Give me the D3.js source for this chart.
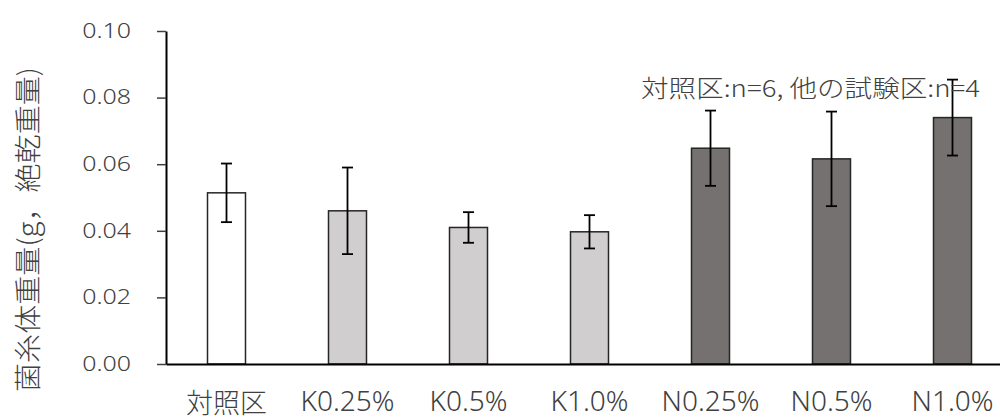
<!DOCTYPE html>
<html>
<head>
<meta charset="utf-8">
<script src="https://cdn.jsdelivr.net/npm/d3@7"></script>
<style>
  body { margin: 0; background: #fff; }
  text { font-family: "Noto Sans", "Noto Sans CJK JP", sans-serif; fill: #404040; font-weight: 300; }
</style>
</head>
<body>
<div id="chart"></div>
<script>
const categories = ['対照区', 'K0.25%', 'K0.5%', 'K1.0%', 'N0.25%', 'N0.5%', 'N1.0%'];
const groups = ['control', 'K', 'K', 'K', 'N', 'N', 'N'];
const means = [0.0514, 0.0460, 0.0410, 0.0397, 0.0648, 0.0616, 0.0740];
const errors = [0.0088, 0.0130, 0.0046, 0.0050, 0.0113, 0.0142, 0.0114];
const yTicks = [0, 0.02, 0.04, 0.06, 0.08, 0.10];
const yLabel = '菌糸体重量(g，絶乾重量)';
const note = '対照区:n=6, 他の試験区:n=4';

const width = 1000;
const height = 420;
const plotLeft = 166, plotRight = 1013, plotTop = 31, plotBottom = 364;

const fills = { control: '#ffffff', K: '#d0cece', N: '#767171' };

let svg = d3.select('#chart')
  .append('svg')
  .attr('width', width)
  .attr('height', height);

let x = d3.scaleBand()
  .domain(categories)
  .range([plotLeft, plotRight])
  .paddingInner(0.686)
  .paddingOuter(0.343);

let y = d3.scaleLinear().domain([0, 0.1]).range([plotBottom, plotTop]);

// Y axis.
let yAxis = d3.axisLeft(y)
  .tickValues(yTicks)
  .tickFormat(d3.format('.2f'))
  .tickSize(9)
  .tickSizeOuter(0);

let yg = svg.append('g')
  .attr('transform', `translate(${plotLeft},0)`)
  .call(yAxis);

const tickStretch = 1.28;
yg.select('.domain').attr('stroke', '#000').attr('stroke-width', 2);
yg.selectAll('.tick line').attr('stroke', '#404040').attr('stroke-width', 1.5);
yg.selectAll('.tick text')
  .attr('x', -35 / tickStretch)
  .attr('transform', `scale(${tickStretch},1)`)
  .style('font-size', '19.5px')
  .attr('fill', '#404040');

// Bars.
svg.append('g')
  .selectAll('rect')
  .data(categories)
  .enter()
  .append('rect')
    .attr('x', d => x(d))
    .attr('y', (d, i) => y(means[i]))
    .attr('width', x.bandwidth())
    .attr('height', (d, i) => plotBottom - y(means[i]))
    .attr('fill', (d, i) => fills[groups[i]])
    .attr('stroke', '#262626')
    .attr('stroke-width', 1.5);

// Error bars.
let eb = svg.append('g')
  .selectAll('g')
  .data(categories)
  .enter()
  .append('g')
    .attr('stroke', '#000')
    .attr('stroke-width', 1.8);

let cx = d => x(d) + x.bandwidth() / 2;
eb.append('line')
  .attr('x1', cx).attr('x2', cx)
  .attr('y1', (d, i) => y(means[i] - errors[i]))
  .attr('y2', (d, i) => y(means[i] + errors[i]));
eb.append('line')
  .attr('x1', d => cx(d) - 5.5).attr('x2', d => cx(d) + 5.5)
  .attr('y1', (d, i) => y(means[i] + errors[i]))
  .attr('y2', (d, i) => y(means[i] + errors[i]));
eb.append('line')
  .attr('x1', d => cx(d) - 5.5).attr('x2', d => cx(d) + 5.5)
  .attr('y1', (d, i) => y(means[i] - errors[i]))
  .attr('y2', (d, i) => y(means[i] - errors[i]));

// X axis.
let xAxis = d3.axisBottom(x).tickSize(0).tickSizeOuter(0);
let xg = svg.append('g')
  .attr('transform', `translate(0,${plotBottom})`)
  .call(xAxis);

xg.select('.domain').attr('stroke', '#000').attr('stroke-width', 2);
xg.selectAll('.tick text')
  .attr('dy', 0)
  .attr('y', d => d === '対照区' ? 49 : 47)
  .style('font-size', d => d === '対照区' ? '27px' : '28px')
  .attr('fill', '#404040');

// Y label.
svg.append('text')
  .attr('transform', 'translate(38,229.5) rotate(-90)')
  .attr('text-anchor', 'middle')
  .attr('textLength', 325)
  .attr('lengthAdjust', 'spacingAndGlyphs')
  .style('font-size', '27px')
  .style('font-family', '"Noto Sans CJK JP", sans-serif')
  .text(yLabel);

// Note.
svg.append('text')
  .attr('x', 641)
  .attr('y', 97)
  .attr('textLength', 339)
  .attr('lengthAdjust', 'spacingAndGlyphs')
  .style('font-size', '24px')
  .style('font-family', '"Noto Sans CJK JP", sans-serif')
  .text(note);
</script>
</body>
</html>
